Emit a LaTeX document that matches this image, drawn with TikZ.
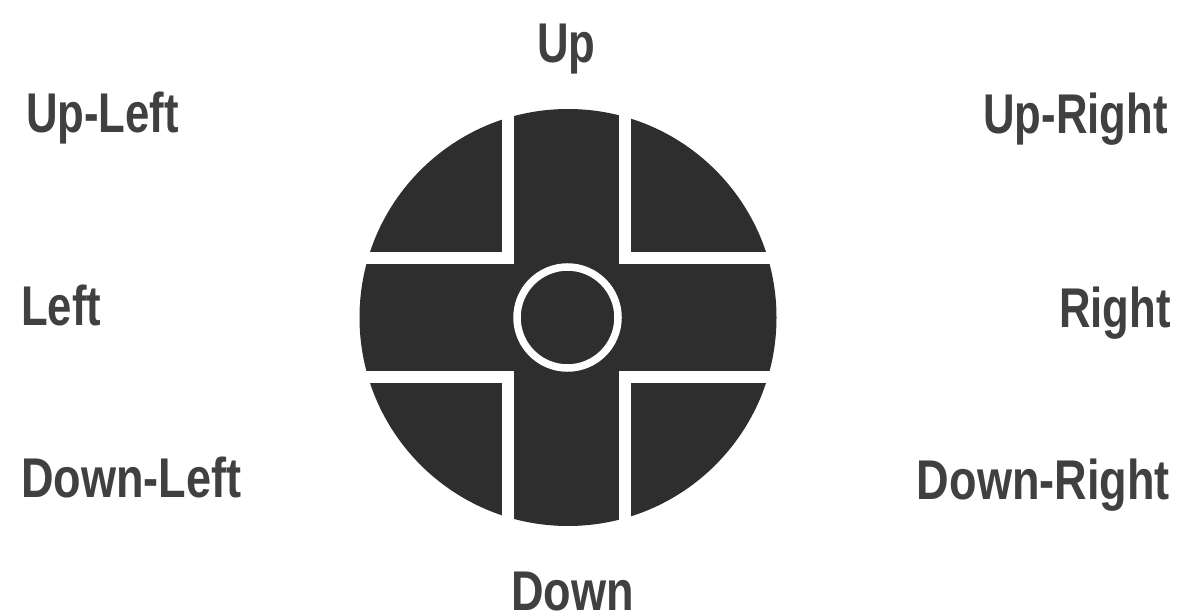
\documentclass[tikz,border=0pt]{standalone}
\usepackage{fontspec}
\setmainfont[FakeStretch=0.78]{Liberation Sans}
\newfontfamily\padwidefont[FakeStretch=0.805]{Liberation Sans}
\definecolor{padblack}{HTML}{2E2E2E}
\definecolor{padtext}{HTML}{404040}
\tikzset{
  padlabel/.style={font=\bfseries\fontsize{56}{56}\selectfont, text=padtext, inner sep=0pt},
  padwide/.style={font=\padwidefont\bfseries\fontsize{56}{56}\selectfont, text=padtext, inner sep=0pt},
  padgap/.style={draw=white, line width=12, line join=miter}
}
\begin{document}
\begin{tikzpicture}[x=1pt,y=-1pt]
  \useasboundingbox[fill=white] (0,0) rectangle (1177,613);

  % Disc of the pad
  \fill[padblack] (568,317.5) circle (208.5);

  % White gaps around the four corner pieces
  \foreach \cx/\cy/\sx/\sy in {508/257.5/-1/-1,624.5/257.5/1/-1,508/376.5/-1/1,624.5/376.5/1/1}{
    \draw[padgap] (\cx,\cy+\sy*170) -- (\cx,\cy) -- (\cx+\sx*170,\cy);
  }

  % Ring in the middle
  \draw[white, line width=7.5] (567.5,317.5) circle (50.5);

  % Direction labels
  \node[padlabel, anchor=base] (up) at (566.5,62) {Up};
  \node[padwide, anchor=base] (down) at (572.5,610) {Down};
  \node[padlabel, anchor=base west] (upleft) at (26,132) {Up-Left};
  \node[padlabel, anchor=base west] (left) at (21,325) {Left};
  \node[padwide, anchor=base west] (downleft) at (21,497) {Down-Left};
  \node[padlabel, anchor=base east] (upright) at (1168,133) {Up-Right};
  \node[padlabel, anchor=base east] (right) at (1171,327) {Right};
  \node[padwide, anchor=base east] (downright) at (1170,499) {Down-Right};
\end{tikzpicture}
\end{document}
